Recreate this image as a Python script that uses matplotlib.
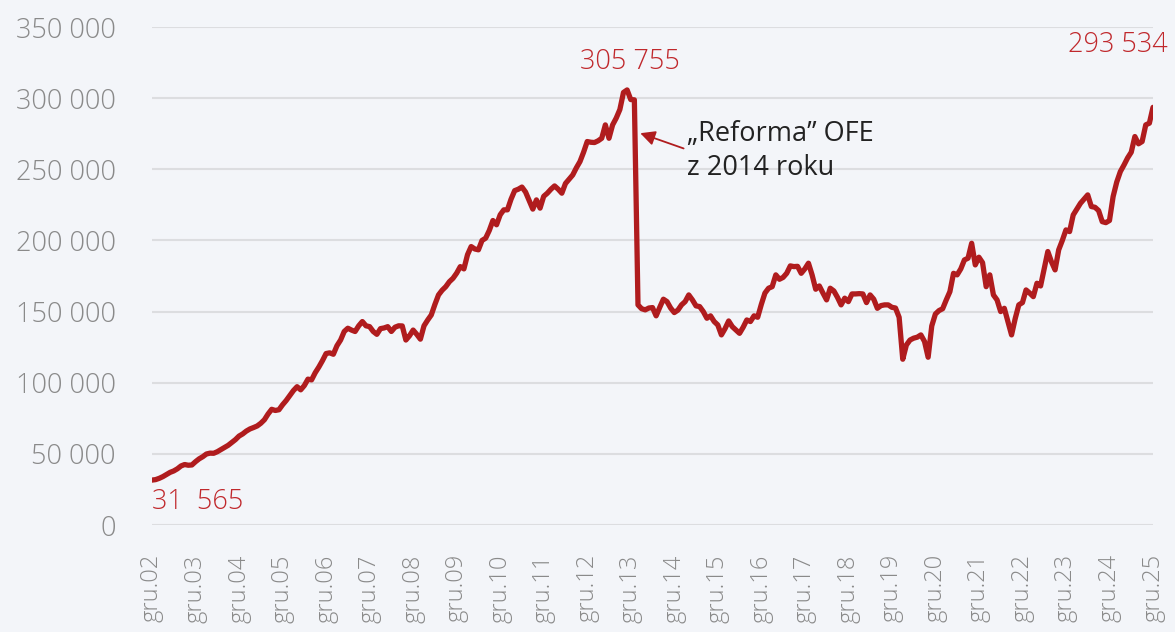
import matplotlib
matplotlib.use("Agg")
import matplotlib.pyplot as plt

# monthly values (thousands), Dec 2002 .. Dec 2025
start = [31.565]
y2003 = [31.9, 32.8, 34.0, 35.5, 37.0, 38.0, 39.5, 41.5, 42.5, 42.0, 42.2, 44.5]
y2004 = [46.5, 48.0, 49.9, 50.5, 50.4, 51.5, 53.0, 54.5, 56.0, 58.0, 60.0, 62.5]
y2005 = [64.0, 66.0, 67.5, 68.5, 69.6, 71.5, 74.0, 78.0, 81.3, 80.5, 81.0, 84.5]
y2006 = [87.5, 91.0, 94.5, 97.2, 95.0, 98.0, 102.5, 102.0, 107.0, 111.0, 115.5, 120.5]
y2007 = [121.0, 120.0, 126.0, 130.0, 136.0, 138.3, 137.0, 136.0, 140.0, 143.0, 140.0, 139.4]
y2008 = [136.0, 134.0, 138.0, 138.5, 139.4, 136.0, 139.0, 140.0, 139.9, 130.0, 133.0, 137.0]
y2009 = [134.0, 130.6, 140.0, 144.0, 147.6, 155.0, 161.7, 165.0, 167.5, 171.0, 173.4, 177.0]
y2010 = [181.6, 180.0, 190.0, 195.7, 194.0, 193.4, 200.0, 201.6, 207.0, 214.0, 211.0, 218.0]
y2011 = [221.5, 221.5, 229.0, 235.0, 236.0, 237.5, 234.0, 228.0, 222.0, 228.5, 222.7, 231.0]
y2012 = [233.2, 236.0, 238.3, 236.0, 233.2, 240.0, 243.0, 246.0, 251.0, 255.4, 262.0, 269.5]
y2013 = [269.0, 268.8, 270.0, 271.8, 281.2, 271.8, 281.2, 286.0, 292.0, 304.0, 305.755, 299.0]
y2014 = [298.8, 154.7, 152.0, 151.2, 152.5, 152.8, 147.0, 153.0, 158.7, 157.0, 152.5, 149.3]
y2015 = [151.0, 154.7, 157.0, 161.7, 158.2, 154.0, 153.5, 150.0, 145.3, 147.0, 143.0, 140.6]
y2016 = [133.6, 138.0, 143.4, 139.4, 137.0, 134.7, 139.0, 144.1, 143.0, 147.0, 146.0, 155.0]
y2017 = [163.0, 166.4, 167.5, 175.8, 172.7, 174.0, 176.9, 182.1, 181.6, 181.8, 176.9, 180.0]
y2018 = [184.0, 175.8, 165.7, 168.0, 163.0, 158.2, 166.4, 164.5, 160.0, 154.7, 159.4, 157.0]
y2019 = [162.4, 162.4, 162.6, 162.4, 156.3, 161.7, 158.7, 152.3, 154.2, 154.7, 154.7, 153.0]
y2020 = [152.5, 146.0, 116.5, 126.5, 130.0, 131.3, 132.0, 133.6, 129.0, 117.9, 139.9, 148.3]
y2021 = [150.7, 152.0, 158.2, 164.0, 176.9, 175.8, 180.0, 186.3, 187.5, 198.0, 182.8, 188.2]
y2022 = [184.4, 167.5, 175.8, 161.7, 158.2, 150.0, 152.3, 143.0, 133.6, 145.0, 154.7, 156.3]
y2023 = [165.2, 163.0, 160.5, 169.9, 168.0, 180.0, 192.2, 185.0, 179.3, 193.4, 200.0, 207.4]
y2024 = [206.2, 217.9, 222.0, 226.1, 229.0, 232.0, 223.8, 223.3, 221.0, 213.2, 212.5, 214.0]
y2025 = [230.8, 241.0, 248.4, 253.0, 258.0, 262.0, 273.0, 267.9, 269.5, 281.2, 282.4, 293.534]

values = [v * 1000 for v in start + y2003 + y2004 + y2005 + y2006 + y2007 + y2008
          + y2009 + y2010 + y2011 + y2012 + y2013 + y2014 + y2015 + y2016 + y2017
          + y2018 + y2019 + y2020 + y2021 + y2022 + y2023 + y2024 + y2025]
years = list(range(2002, 2026))
tick_labels = [f"gru.{y % 100:02d}" for y in years]
y_ticks = [0, 50000, 100000, 150000, 200000, 250000, 300000, 350000]

RED = "#b01c1e"
LABEL_RED = "#c0282c"
GREY = "#8a8a8a"
BG = "#f3f5f9"

plt.rcParams["font.family"] = ["Open Sans", "DejaVu Sans"]

fig = plt.figure(figsize=(11.75, 6.32), dpi=100, facecolor=BG)
ax = fig.add_axes([152 / 1175, 1 - 525 / 632, 1001 / 1175, 498 / 632])
ax.set_facecolor(BG)

x = list(range(len(values)))
ax.plot(x, values, color=RED, lw=3.8, solid_joinstyle="round", solid_capstyle="round", zorder=3)

ax.set_xlim(0, len(values) - 1)
ax.set_ylim(0, 350000)
ax.set_yticks(y_ticks)
ax.set_yticklabels([f"{v:,}".replace(",", " ") for v in y_ticks])
ax.set_xticks([i * 12 for i in range(len(years))])
ax.set_xticklabels(tick_labels, rotation=90, va="top", ha="center")
ax.tick_params(axis="y", length=0, pad=26, labelsize=19.5, labelcolor=GREY)
ax.tick_params(axis="x", length=0, pad=21, labelsize=17, labelcolor=GREY)
for lab in ax.get_xticklabels() + ax.get_yticklabels():
    lab.set_fontweight("light")
ax.grid(axis="y", color="#dcdde0", lw=1.5)
ax.set_axisbelow(True)
for s in ax.spines.values():
    s.set_visible(False)

# value labels
i_peak = values.index(max(values))
ax.annotate("305 755", xy=(i_peak, values[i_peak]), xytext=(2, 20), textcoords="offset points",
            ha="center", va="center", fontsize=19.5, color=LABEL_RED, fontweight="light")
ax.annotate("293 534", xy=(x[-1], values[-1]), xytext=(-25, 45), textcoords="offset points",
            ha="center", va="center", fontsize=19.5, color=LABEL_RED, fontweight="light")
ax.annotate("31  565", xy=(0, values[0]), xytext=(0, -16), textcoords="offset points",
            ha="left", va="center", fontsize=19.5, color=LABEL_RED, fontweight="light")

# reform note
ax.annotate("", xy=(133.9, 276000), xytext=(147.3, 264000),
            arrowprops=dict(arrowstyle="-|>", color=RED, lw=1.3, mutation_scale=22))
ax.text(147.5, 263000, "\u201eReforma\u201d OFE\nz 2014 roku", ha="left", va="center",
        fontsize=19.5, color="#222222", linespacing=1.3)

fig.savefig("out.png", dpi=100, facecolor=BG)
